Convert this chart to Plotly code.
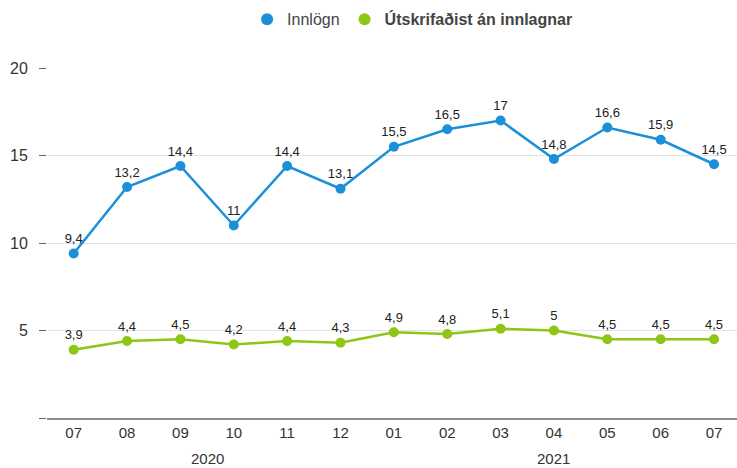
import plotly.graph_objects as go

months = ["07", "08", "09", "10", "11", "12", "01", "02", "03", "04", "05", "06", "07"]
years = ["2020", "2021"]
year_centers = [2.5, 9]
innlogn = [9.4, 13.2, 14.4, 11, 14.4, 13.1, 15.5, 16.5, 17, 14.8, 16.6, 15.9, 14.5]
utskrifad = [3.9, 4.4, 4.5, 4.2, 4.4, 4.3, 4.9, 4.8, 5.1, 5, 4.5, 4.5, 4.5]
y_ticks = [0, 5, 10, 15, 20]

BLUE = "#1b8fd8"
GREEN = "#8dc614"
FONT = "Liberation Sans, Arial, sans-serif"

def fmt(v):
    return f"{v:g}".replace(".", ",")

x = list(range(len(months)))

series = [
    ("Innlögn", innlogn, BLUE),
    ("<b>Útskrifaðist án innlagnar</b>", utskrifad, GREEN),
]

fig = go.Figure()
for name, vals, col in series:
    fig.add_trace(go.Scatter(
        x=x, y=vals, mode="lines+markers+text", showlegend=False,
        line=dict(color=col, width=2.5),
        marker=dict(color=col, size=10),
        text=[fmt(v) for v in vals], textposition="top center",
        textfont=dict(family=FONT, size=13, color="#222"),
        hoverinfo="skip",
    ))
    # legend entry drawn as a plain dot
    fig.add_trace(go.Scatter(
        x=[None], y=[None], mode="markers", name=name,
        marker=dict(color=col, size=13),
    ))

for yr, cx in zip(years, year_centers):
    fig.add_annotation(x=cx, y=0, xref="x", yref="paper", text=yr,
                       showarrow=False, yshift=-30, yanchor="top",
                       font=dict(family=FONT, size=15, color="#333"))

fig.update_layout(
    width=737, height=468,
    margin=dict(l=47, r=0, t=68, b=50),
    paper_bgcolor="white", plot_bgcolor="white",
    font=dict(family=FONT, size=14, color="#333"),
    legend=dict(orientation="h", x=0.29, xanchor="left", y=0.995, yanchor="top",
                yref="container", font=dict(family=FONT, size=16, color="#444"),
                itemsizing="constant", bgcolor="rgba(0,0,0,0)"),
)
fig.update_xaxes(
    range=[-0.5, 12.43], tickvals=x, ticktext=months,
    showgrid=False, zeroline=False,
    showline=True, linecolor="#8a8a8a", linewidth=1.5,
    ticks="", tickfont=dict(family=FONT, size=15, color="#333"),
)
fig.update_yaxes(
    range=[0, 20], tickvals=y_ticks, ticktext=["" if v == 0 else str(v) for v in y_ticks],
    showgrid=True, gridcolor="#e3e3e3", gridwidth=1, zeroline=False, showline=False,
    ticks="outside", ticklen=7, tickcolor="#666", tickwidth=1, ticklabelstandoff=8,
    tickfont=dict(family=FONT, size=16, color="#333"),
)

fig.write_html("out.html")
